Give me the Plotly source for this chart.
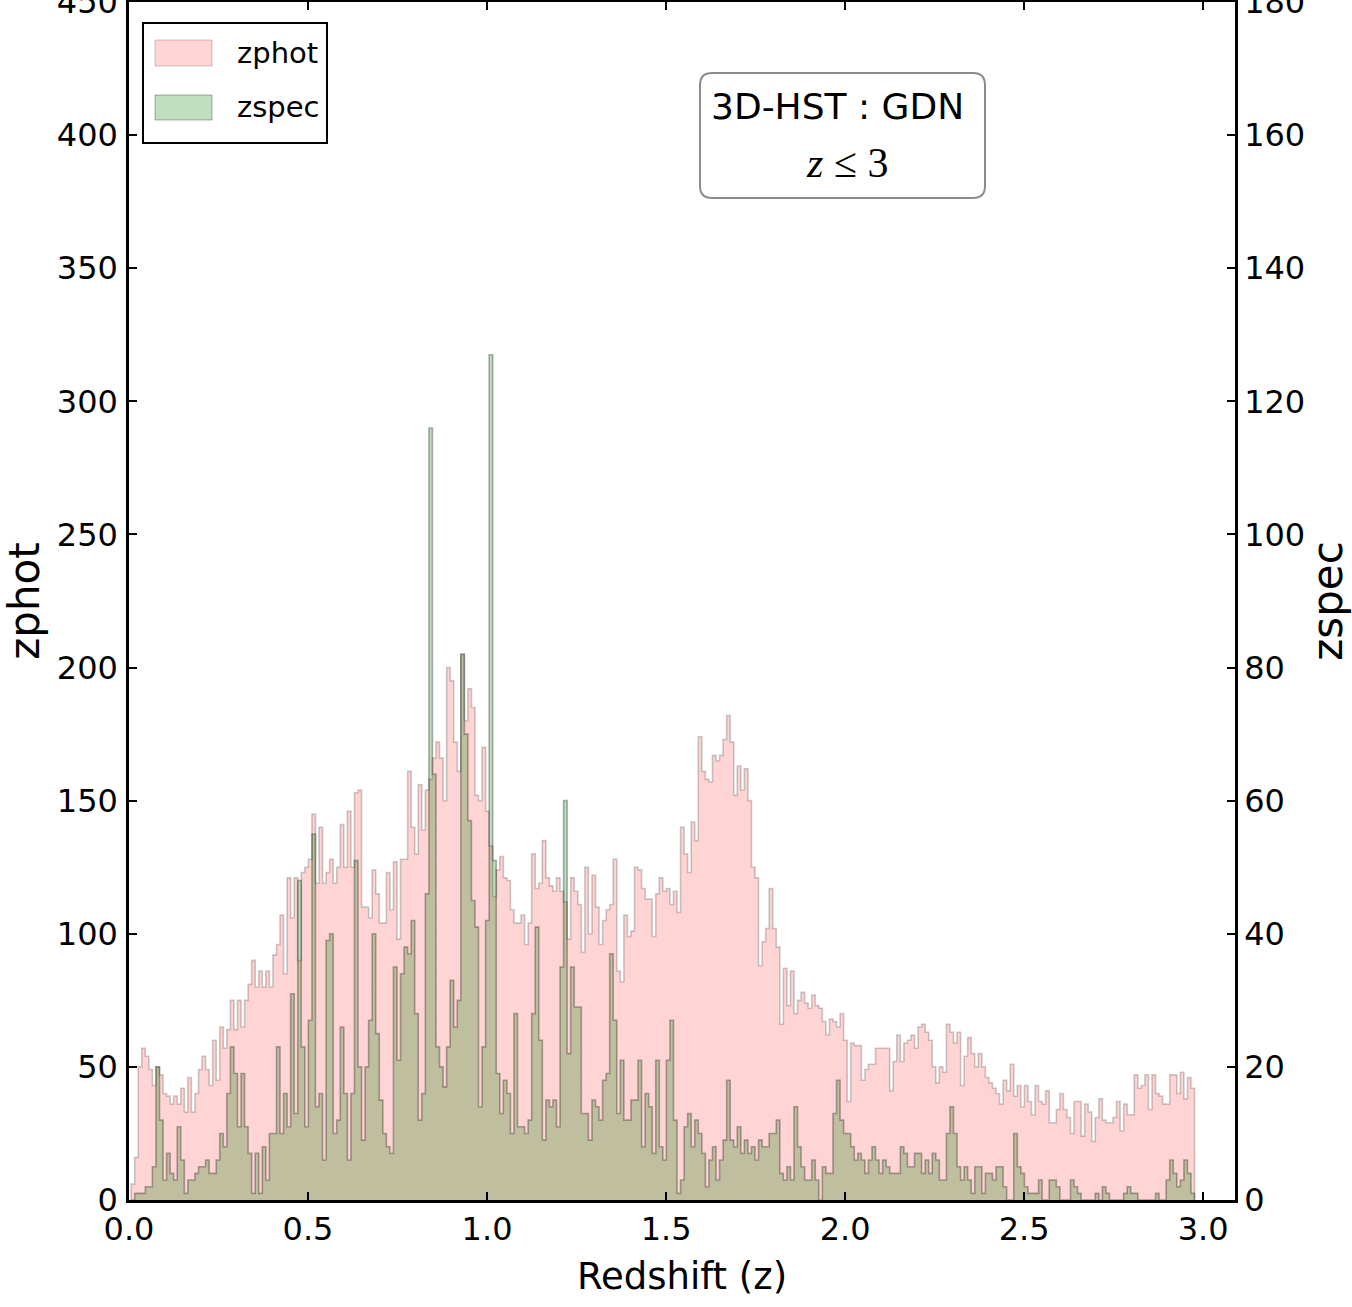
import numpy as np
import plotly.graph_objects as go

# ---------------- data ----------------
bin_start = 0.006
bin_width = 0.0099

zphot_counts = [
    6, 16, 50, 57, 54, 49, 43, 50, 47, 40,
    39, 36, 39, 36, 42, 33, 46, 33, 40, 49,
    54, 49, 43, 60, 45, 65, 57, 64, 75, 64,
    75, 65, 75, 81, 90, 80, 86, 80, 86, 80,
    92, 96, 107, 85, 121, 106, 121, 90, 123, 125,
    128, 145, 119, 140, 119, 123, 128, 119, 125, 141,
    125, 146, 125, 153, 154, 110, 110, 106, 124, 115,
    104, 104, 123, 109, 127, 98, 128, 128, 161, 140,
    130, 156, 139, 154, 158, 166, 172, 166, 150, 200,
    195, 172, 161, 205, 180, 192, 185, 152, 150, 170,
    146, 133, 114, 124, 129, 121, 120, 109, 104, 104,
    107, 96, 104, 130, 117, 119, 135, 121, 118, 116,
    121, 116, 112, 98, 121, 116, 111, 93, 125, 100,
    122, 110, 96, 105, 109, 111, 128, 86, 82, 107,
    99, 101, 125, 124, 117, 113, 113, 99, 115, 121,
    116, 117, 111, 116, 108, 140, 130, 123, 142, 135,
    174, 161, 158, 157, 167, 165, 167, 173, 182, 172,
    152, 163, 154, 162, 150, 125, 121, 88, 97, 102,
    117, 102, 95, 66, 87, 73, 86, 70, 75, 78,
    74, 72, 77, 73, 72, 67, 62, 68, 67, 65,
    70, 60, 37, 59, 58, 58, 45, 49, 51, 51,
    57, 57, 57, 57, 41, 52, 62, 52, 59, 60,
    62, 57, 65, 66, 63, 60, 50, 44, 50, 48,
    66, 63, 59, 63, 43, 54, 61, 55, 50, 55,
    50, 46, 44, 42, 40, 36, 45, 41, 51, 39,
    43, 35, 43, 37, 32, 43, 37, 36, 41, 29,
    29, 34, 40, 34, 31, 25, 37, 37, 24, 36,
    33, 22, 31, 38, 30, 29, 29, 31, 37, 26,
    36, 32, 32, 47, 42, 43, 47, 34, 47, 40,
    39, 36, 36, 47, 47, 40, 48, 38, 46, 42,
]

zspec_counts = [
    0, 1, 1, 1, 2, 2, 5, 20, 12, 3,
    7, 4, 3, 11, 6, 1, 3, 3, 4, 5,
    5, 6, 4, 4, 6, 10, 8, 16, 23, 19,
    11, 19, 11, 7, 1, 7, 1, 8, 3, 10,
    10, 23, 10, 16, 11, 31, 13, 48, 23, 11,
    27, 55, 14, 16, 6, 39, 40, 10, 12, 26,
    16, 6, 16, 51, 20, 9, 20, 27, 40, 25,
    15, 10, 8, 7, 35, 21, 34, 38, 37, 42,
    28, 12, 16, 46, 116, 64, 23, 20, 17, 23,
    33, 26, 30, 82, 70, 57, 45, 41, 14, 23,
    42, 127, 51, 19, 13, 18, 16, 10, 28, 11,
    11, 10, 12, 28, 41, 24, 9, 15, 14, 15,
    11, 35, 60, 22, 35, 29, 29, 13, 13, 9,
    15, 14, 12, 18, 19, 37, 27, 13, 21, 12,
    12, 15, 15, 21, 8, 16, 14, 7, 21, 8,
    6, 21, 27, 12, 1, 3, 11, 13, 8, 12,
    10, 7, 2, 6, 8, 3, 6, 9, 18, 9,
    8, 11, 7, 9, 7, 8, 6, 9, 8, 8,
    10, 10, 12, 4, 3, 5, 3, 14, 8, 5,
    3, 3, 6, 3, 0, 5, 4, 4, 13, 18,
    12, 10, 10, 8, 6, 7, 6, 4, 6, 8,
    6, 4, 6, 5, 4, 4, 4, 8, 7, 5,
    5, 7, 7, 4, 6, 4, 7, 6, 3, 3,
    10, 14, 10, 5, 3, 5, 3, 1, 5, 5,
    1, 4, 4, 3, 5, 5, 2, 0, 0, 10,
    5, 4, 2, 1, 1, 1, 3, 0, 0, 3,
    3, 2, 0, 0, 0, 3, 2, 1, 0, 0,
    0, 0, 1, 0, 2, 1, 0, 0, 0, 0,
    1, 2, 1, 1, 0, 0, 0, 0, 0, 1,
    0, 0, 3, 6, 4, 2, 3, 6, 4, 1,
]

x_tick_values = [0.0, 0.5, 1.0, 1.5, 2.0, 2.5, 3.0]
x_tick_labels = ["0.0", "0.5", "1.0", "1.5", "2.0", "2.5", "3.0"]
zphot_tick_values = [0, 50, 100, 150, 200, 250, 300, 350, 400, 450]
zspec_tick_values = [0, 20, 40, 60, 80, 100, 120, 140, 160, 180]
series_names = ["zphot", "zspec"]
box_title = "3D-HST : GDN"
box_subtitle = "<i>z</i> ≤ 3"

# ---------------- helpers ----------------
def step_outline(counts):
    counts = np.asarray(counts, dtype=float)
    edges = bin_start + bin_width * np.arange(len(counts) + 1)
    xs = np.concatenate([[edges[0]], edges[:-1], [edges[-1], edges[-1]]])
    ys = np.concatenate([[0.0], counts, [counts[-1], 0.0]])
    return xs, ys

PINK_FILL = "rgba(255,0,0,0.17)"
PINK_EDGE = "rgba(0,0,0,0.2)"
GREEN_FILL = "rgba(0,128,0,0.25)"
GREEN_EDGE = "rgba(0,0,0,0.3)"

H_FONT = "DejaVu Sans, sans-serif"
V_FONT = "DejaVu Sans, sans-serif"

fig = go.Figure()

xp, yp = step_outline(zphot_counts)
fig.add_trace(go.Scatter(
    x=xp, y=yp, mode="lines", line=dict(shape="hv", color=PINK_EDGE, width=1.6),
    fill="tozeroy", fillcolor=PINK_FILL, name=series_names[0],
    showlegend=False, hoverinfo="skip", xaxis="x", yaxis="y",
))

xs_, ys_ = step_outline(zspec_counts)
fig.add_trace(go.Scatter(
    x=xs_, y=ys_, mode="lines", line=dict(shape="hv", color=GREEN_EDGE, width=1.6),
    fill="tozeroy", fillcolor=GREEN_FILL, name=series_names[1],
    showlegend=False, hoverinfo="skip", xaxis="x", yaxis="y2",
))

W, H = 1352, 1307
ML, MR, MT, MB = 129, 117, 2, 107
PW, PH = W - ML - MR, H - MT - MB

def px(xpix):
    return (xpix - ML) / PW

def py(ypix):
    return (H - MB - ypix) / PH

tick_font = dict(family=H_FONT, size=32, color="black")

fig.update_layout(
    width=W, height=H,
    margin=dict(l=ML, r=MR, t=MT, b=MB, pad=0, autoexpand=False),
    paper_bgcolor="white", plot_bgcolor="white",
    showlegend=False,
    xaxis=dict(
        range=[0, 3.089], tickvals=x_tick_values, ticktext=x_tick_labels,
        ticks="inside", ticklen=8, tickwidth=1.5, tickcolor="black",
        showline=True, linecolor="black", linewidth=2.5, mirror="ticks",
        showgrid=False, zeroline=False, tickfont=tick_font, ticklabelstandoff=-1,
        ticklabeloverflow="allow", automargin=False,
        title=dict(text="Redshift (z)", font=dict(family=H_FONT, size=37, color="black"), standoff=16),
    ),
    yaxis=dict(
        range=[0, 450], tickvals=zphot_tick_values,
        ticks="inside", ticklen=8, tickwidth=1.5, tickcolor="black",
        showline=True, linecolor="black", linewidth=2.5,
        showgrid=False, zeroline=False, tickfont=tick_font, ticklabelstandoff=2,
        ticklabeloverflow="allow", automargin=False,
        title=dict(text=series_names[0], font=dict(family=V_FONT, size=42, color="black"), standoff=16),
    ),
    yaxis2=dict(
        range=[0, 180], tickvals=zspec_tick_values, overlaying="y", side="right",
        ticks="inside", ticklen=8, tickwidth=1.5, tickcolor="black",
        showline=True, linecolor="black", linewidth=2.5,
        showgrid=False, zeroline=False, tickfont=tick_font, ticklabelstandoff=0,
        ticklabeloverflow="allow", automargin=False,
        title=dict(text=series_names[1], font=dict(family=V_FONT, size=42, color="black"), standoff=22),
    ),
)

shapes = []
# legend box
shapes.append(dict(type="rect", xref="paper", yref="paper",
                   x0=px(143), x1=px(327), y0=py(143), y1=py(23),
                   line=dict(color="black", width=2), fillcolor="white", layer="above"))
shapes.append(dict(type="rect", xref="paper", yref="paper",
                   x0=px(155), x1=px(212), y0=py(66), y1=py(40),
                   line=dict(color=PINK_EDGE, width=1), fillcolor=PINK_FILL, layer="above"))
shapes.append(dict(type="rect", xref="paper", yref="paper",
                   x0=px(155), x1=px(212), y0=py(120), y1=py(95),
                   line=dict(color=GREEN_EDGE, width=1), fillcolor=GREEN_FILL, layer="above"))

# rounded text box
bx0, bx1, by0, by1, r = 700, 985, 73, 198, 12
path = (
    f"M {px(bx0 + r)},{py(by0)} L {px(bx1 - r)},{py(by0)} "
    f"Q {px(bx1)},{py(by0)} {px(bx1)},{py(by0 + r)} "
    f"L {px(bx1)},{py(by1 - r)} Q {px(bx1)},{py(by1)} {px(bx1 - r)},{py(by1)} "
    f"L {px(bx0 + r)},{py(by1)} Q {px(bx0)},{py(by1)} {px(bx0)},{py(by1 - r)} "
    f"L {px(bx0)},{py(by0 + r)} Q {px(bx0)},{py(by0)} {px(bx0 + r)},{py(by0)} Z"
)
shapes.append(dict(type="path", xref="paper", yref="paper", path=path,
                   line=dict(color="#8c8c8c", width=2), fillcolor="white", layer="above"))
fig.update_layout(shapes=shapes)

annotations = [
    dict(text=series_names[0], xref="paper", yref="paper", x=px(235), y=py(53),
         xanchor="left", yanchor="middle", showarrow=False,
         font=dict(family=H_FONT, size=29, color="black")),
    dict(text=series_names[1], xref="paper", yref="paper", x=px(235), y=py(107),
         xanchor="left", yanchor="middle", showarrow=False,
         font=dict(family=H_FONT, size=29, color="black")),
    dict(text=box_title, xref="paper", yref="paper", x=px(837), y=py(107),
         xanchor="center", yanchor="middle", showarrow=False,
         font=dict(family=H_FONT, size=36, color="black")),
    dict(text=box_subtitle, xref="paper", yref="paper", x=px(847), y=py(163),
         xanchor="center", yanchor="middle", showarrow=False,
         font=dict(family="Liberation Serif, DejaVu Serif, serif", size=42, color="black")),
]
fig.update_layout(annotations=annotations)

fig.write_html("out.html")
